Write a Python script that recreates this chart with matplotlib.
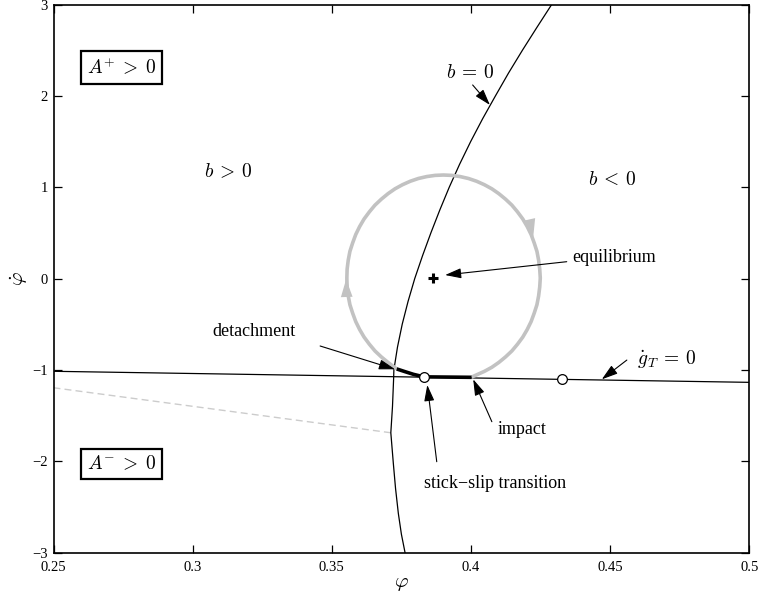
import matplotlib
matplotlib.use("Agg")
import matplotlib.pyplot as plt

plt.rcParams['font.family'] = ['Liberation Serif', 'DejaVu Serif']
plt.rcParams['mathtext.fontset'] = 'cm'

# ---- data ----
b0_phi = [0.4290, 0.4237, 0.4185, 0.4135, 0.4088, 0.4042, 0.3999, 0.3959, 0.3922,
          0.3888, 0.3856, 0.3826, 0.3798, 0.3774, 0.3753, 0.3736, 0.3723, 0.3722,
          0.3718, 0.3712, 0.3721, 0.3729, 0.3739, 0.3750, 0.3763]
b0_phidot = [3.0, 2.75, 2.5, 2.25, 2.0, 1.75, 1.5, 1.25, 1.0,
             0.75, 0.5, 0.25, 0.0, -0.25, -0.5, -0.75, -1.0, -1.1,
             -1.4, -1.689, -2.024, -2.3, -2.572, -2.8, -3.0]

gT_phi = [0.25, 0.5]
gT_phidot = [-1.016, -1.137]

dash_phi = [0.25, 0.3712]
dash_phidot = [-1.196, -1.689]

stick_phi = [0.4002, 0.3831, 0.3793, 0.3763, 0.3733]
stick_phidot = [-1.082, -1.077, -1.049, -1.020, -0.990]

orbit_phi = [0.3733, 0.3702, 0.3678, 0.3655, 0.3635, 0.3616, 0.3600, 0.3586, 0.3575,
             0.3565, 0.3559, 0.3555, 0.3554, 0.3555, 0.3559, 0.3565, 0.3575, 0.3586,
             0.3600, 0.3616, 0.3635, 0.3655, 0.3678, 0.3702, 0.3727, 0.3754, 0.3782,
             0.3811, 0.3841, 0.3871, 0.3901, 0.3931, 0.3961, 0.3991, 0.4020, 0.4048,
             0.4075, 0.4100, 0.4124, 0.4147, 0.4167, 0.4186, 0.4202, 0.4216, 0.4227,
             0.4237, 0.4243, 0.4247, 0.4249, 0.4247, 0.4243, 0.4237, 0.4227, 0.4216,
             0.4202, 0.4186, 0.4167, 0.4147, 0.4124, 0.4100, 0.4075, 0.4048, 0.4020,
             0.4002]
orbit_phidot = [-0.990, -0.919, -0.859, -0.793, -0.720, -0.642, -0.559, -0.472, -0.381,
                -0.287, -0.191, -0.093, 0.005, 0.103, 0.201, 0.297, 0.391, 0.482,
                0.569, 0.652, 0.730, 0.803, 0.869, 0.929, 0.982, 1.027, 1.065,
                1.095, 1.116, 1.129, 1.133, 1.129, 1.116, 1.095, 1.065, 1.027,
                0.982, 0.929, 0.869, 0.803, 0.730, 0.652, 0.569, 0.482, 0.391,
                0.297, 0.201, 0.103, 0.005, -0.093, -0.191, -0.287, -0.381, -0.472,
                -0.559, -0.642, -0.720, -0.793, -0.859, -0.919, -0.972, -1.017, -1.055,
                -1.080]

trans_phi = [0.3831, 0.4326]
trans_phidot = [-1.077, -1.104]

eq_phi = [0.3862]
eq_phidot = [0.005]

xticks = [0.25, 0.3, 0.35, 0.4, 0.45, 0.5]
xticklabels = ['0.25', '0.3', '0.35', '0.4', '0.45', '0.5']
yticks = [-3, -2, -1, 0, 1, 2, 3]
yticklabels = ['\u22123', '\u22122', '\u22121', '0', '1', '2', '3']

# ---- figure ----
fig = plt.figure(figsize=(7.59, 5.99), dpi=100)
ax = fig.add_axes([53.5/759, 1 - 552.5/599, (749.3-53.5)/759, (552.5-4.5)/599])

gray = '0.76'
ax.plot(dash_phi, dash_phidot, color='0.8', lw=1.0, ls=(0, (5, 3)))
ax.plot(gT_phi, gT_phidot, color='k', lw=0.9)
ax.plot(b0_phi, b0_phidot, color='k', lw=0.9)
ax.plot(orbit_phi, orbit_phidot, color=gray, lw=2.6, solid_capstyle='butt',
        solid_joinstyle='round')
ax.plot(stick_phi, stick_phidot, color='k', lw=2.6, solid_capstyle='butt',
        solid_joinstyle='round')
ax.plot(trans_phi, trans_phidot, 'o', ms=7, mfc='white', mec='k', mew=0.9)
ax.plot(eq_phi, eq_phidot, '+', ms=7, mec='k', mew=2.2)

# orbit direction arrows
hstyle = '-|>,head_length=0.9,head_width=0.3'
ax.annotate('', xy=(0.3551, 0.02), xytext=(0.3553, -0.15),
            arrowprops=dict(arrowstyle=hstyle, color=gray, lw=0.01, mutation_scale=14))
ax.annotate('', xy=(0.4226, 0.43), xytext=(0.4212, 0.62),
            arrowprops=dict(arrowstyle=hstyle, color=gray, lw=0.01, mutation_scale=14))

# annotation arrows
astyle = '-|>,head_length=0.7,head_width=0.22'
def arrow(tip, tail):
    ax.annotate('', xy=tip, xytext=tail,
                arrowprops=dict(arrowstyle=astyle, color='k', lw=0.8,
                                mutation_scale=14, shrinkA=0, shrinkB=0))

arrow((0.4068, 1.900), (0.4006, 2.119))
arrow((0.3907, 0.038), (0.4344, 0.184))
arrow((0.3727, -0.994), (0.3458, -0.739))
arrow((0.4008, -1.104), (0.4075, -1.568))
arrow((0.3843, -1.166), (0.3877, -2.006))
arrow((0.4470, -1.104), (0.4560, -0.893))

fs = 13
ax.text(0.3997, 2.248, r'$b\:=\:0$', fontsize=14, ha='center', va='center')
ax.text(0.3127, 1.166, r'$b\:>\:0$', fontsize=14, ha='center', va='center')
ax.text(0.4507, 1.079, r'$b\:<\:0$', fontsize=14, ha='center', va='center')
ax.text(0.4703, -0.88, r'$\dot{g}_T\:=\:0$', fontsize=14, ha='center', va='center')
ax.text(0.4514, 0.2245, 'equilibrium', fontsize=fs, ha='center', va='center')
ax.text(0.3220, -0.583, 'detachment', fontsize=fs, ha='center', va='center')
ax.text(0.4182, -1.648, 'impact', fontsize=fs, ha='center', va='center')
ax.text(0.4086, -2.243, 'stick\u2212slip transition', fontsize=fs, ha='center', va='center')

box = dict(boxstyle='square,pad=0.3', fc='white', ec='k', lw=1.6)
ax.text(0.2743, 2.311, r'$A^{+}\:>\:0$', fontsize=14, ha='center', va='center', bbox=box)
ax.text(0.2743, -2.03, r'$A^{-}\:>\:0$', fontsize=14, ha='center', va='center', bbox=box)

ax.set_xlim(0.25, 0.5)
ax.set_ylim(-3, 3)
ax.set_xticks(xticks)
ax.set_xticklabels(xticklabels)
ax.set_yticks(yticks)
ax.set_yticklabels(yticklabels)
ax.tick_params(direction='in', top=True, right=True, length=6, width=0.9,
               labelsize=10.5)
ax.tick_params(axis='x', pad=6)
ax.tick_params(axis='y', pad=4)
for s in ax.spines.values():
    s.set_linewidth(1.2)

ax.set_xlabel(r'$\varphi$', fontsize=15, labelpad=0)
ax.set_ylabel(r'$\dot{\varphi}$', fontsize=15, labelpad=1.5)

fig.savefig('out.png', dpi=100)
